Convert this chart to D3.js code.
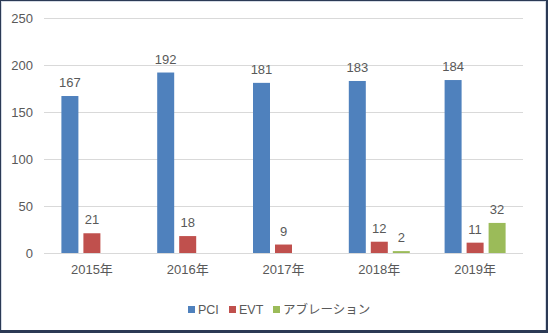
<!DOCTYPE html>
<html>
<head>
<meta charset="utf-8">
<script src="https://cdn.jsdelivr.net/npm/d3@7"></script>
<style>
  html, body { margin: 0; padding: 0; background: #fff; }
  svg { display: block; }
  text { font-family: "Liberation Sans", Arial, "Noto Sans CJK JP", sans-serif; fill: #595959; }
</style>
</head>
<body>
<svg id="chart" width="548" height="333"></svg>
<script>
// Annual procedure counts
const years = ["2015年", "2016年", "2017年", "2018年", "2019年"];
const seriesNames = ["PCI", "EVT", "アブレーション"];
const pciValues = [167, 192, 181, 183, 184];
const evtValues = [21, 18, 9, 12, 11];
const ablationValues = [null, null, null, 2, 32];
const seriesColors = ["#4F81BD", "#C0504D", "#9BBB59"];
const yTicks = [0, 50, 100, 150, 200, 250];

const seriesValues = [pciValues, evtValues, ablationValues];

const svg = d3.select("#chart");
const W = 548, H = 333;

// Chart frame
svg.append("rect").attr("x", 0.5).attr("y", 0.5).attr("width", W - 1).attr("height", H - 1)
  .attr("fill", "#fff").attr("stroke", "#2B3A55").attr("stroke-width", 1);
svg.append("rect").attr("x", 1.5).attr("y", 1.5).attr("width", W - 4).attr("height", H - 4)
  .attr("fill", "none").attr("stroke", "#D5DBE5").attr("stroke-width", 1);
svg.append("line").attr("x1", W - 1).attr("x2", W - 1).attr("y1", 0).attr("y2", H)
  .attr("stroke", "#2B3A55").attr("stroke-width", 2);
svg.append("line").attr("x1", 0).attr("x2", W).attr("y1", H - 1.5).attr("y2", H - 1.5)
  .attr("stroke", "#2B3A55").attr("stroke-width", 3);

const plot = { left: 44, right: 523, top: 18, bottom: 253 };

const x = d3.scaleBand().domain(years).range([plot.left, plot.right]).paddingInner(0).paddingOuter(0);
const y = d3.scaleLinear().domain([0, 250]).range([plot.bottom, plot.top]);

// Bars within a year: 17px wide with 5px gaps
const xSub = d3.scaleBand().domain(seriesNames)
  .range([-30.5, 30.5]).paddingInner(5 / 22).paddingOuter(0);

// Gridlines
const yAxis = d3.axisLeft(y).tickValues(yTicks).tickSize(-(plot.right - plot.left)).tickPadding(11);
const gy = svg.append("g").attr("transform", `translate(${plot.left},0)`).call(yAxis);
gy.select(".domain").remove();
gy.selectAll(".tick line").attr("stroke", "#D9D9D9").attr("stroke-width", 1);
gy.selectAll(".tick text").attr("font-size", 13).attr("fill", "#595959");

// Category axis
const xAxis = d3.axisBottom(x).tickSize(0).tickPadding(12);
const gx = svg.append("g").attr("transform", `translate(0,${plot.bottom})`).call(xAxis);
gx.select(".domain").remove();
gx.selectAll(".tick text").attr("font-size", 13).attr("fill", "#595959");

// Baseline
svg.append("line").attr("x1", plot.left).attr("x2", plot.right)
  .attr("y1", plot.bottom + 0.5).attr("y2", plot.bottom + 0.5).attr("stroke", "#D9D9D9");

// Bars and value labels
seriesNames.forEach((name, si) => {
  const data = years.map((yr, i) => ({ yr, v: seriesValues[si][i] })).filter(d => d.v != null);
  const g = svg.append("g");
  g.selectAll("rect").data(data).join("rect")
    .attr("x", d => x(d.yr) + x.bandwidth() / 2 + xSub(name))
    .attr("width", xSub.bandwidth())
    .attr("y", d => y(d.v))
    .attr("height", d => y(0) - y(d.v))
    .attr("fill", seriesColors[si]);
  g.selectAll("text").data(data).join("text")
    .attr("x", d => x(d.yr) + x.bandwidth() / 2 + xSub(name) + xSub.bandwidth() / 2)
    .attr("y", d => y(d.v) - 9)
    .attr("text-anchor", "middle")
    .attr("font-size", 13)
    .attr("fill", "#404040")
    .text(d => d.v);
});

// Legend
const legend = svg.append("g").attr("transform", "translate(188,310)");
const legendX = [0, 41, 85];
seriesNames.forEach((name, i) => {
  const lg = legend.append("g").attr("transform", `translate(${legendX[i]},0)`);
  lg.append("rect").attr("x", 0).attr("y", -4).attr("width", 7).attr("height", 7).attr("fill", seriesColors[i]);
  lg.append("text").attr("x", 10).attr("y", 0).attr("dy", "0.35em")
    .attr("font-size", 12.5).attr("fill", "#595959").text(name);
});
</script>
</body>
</html>
